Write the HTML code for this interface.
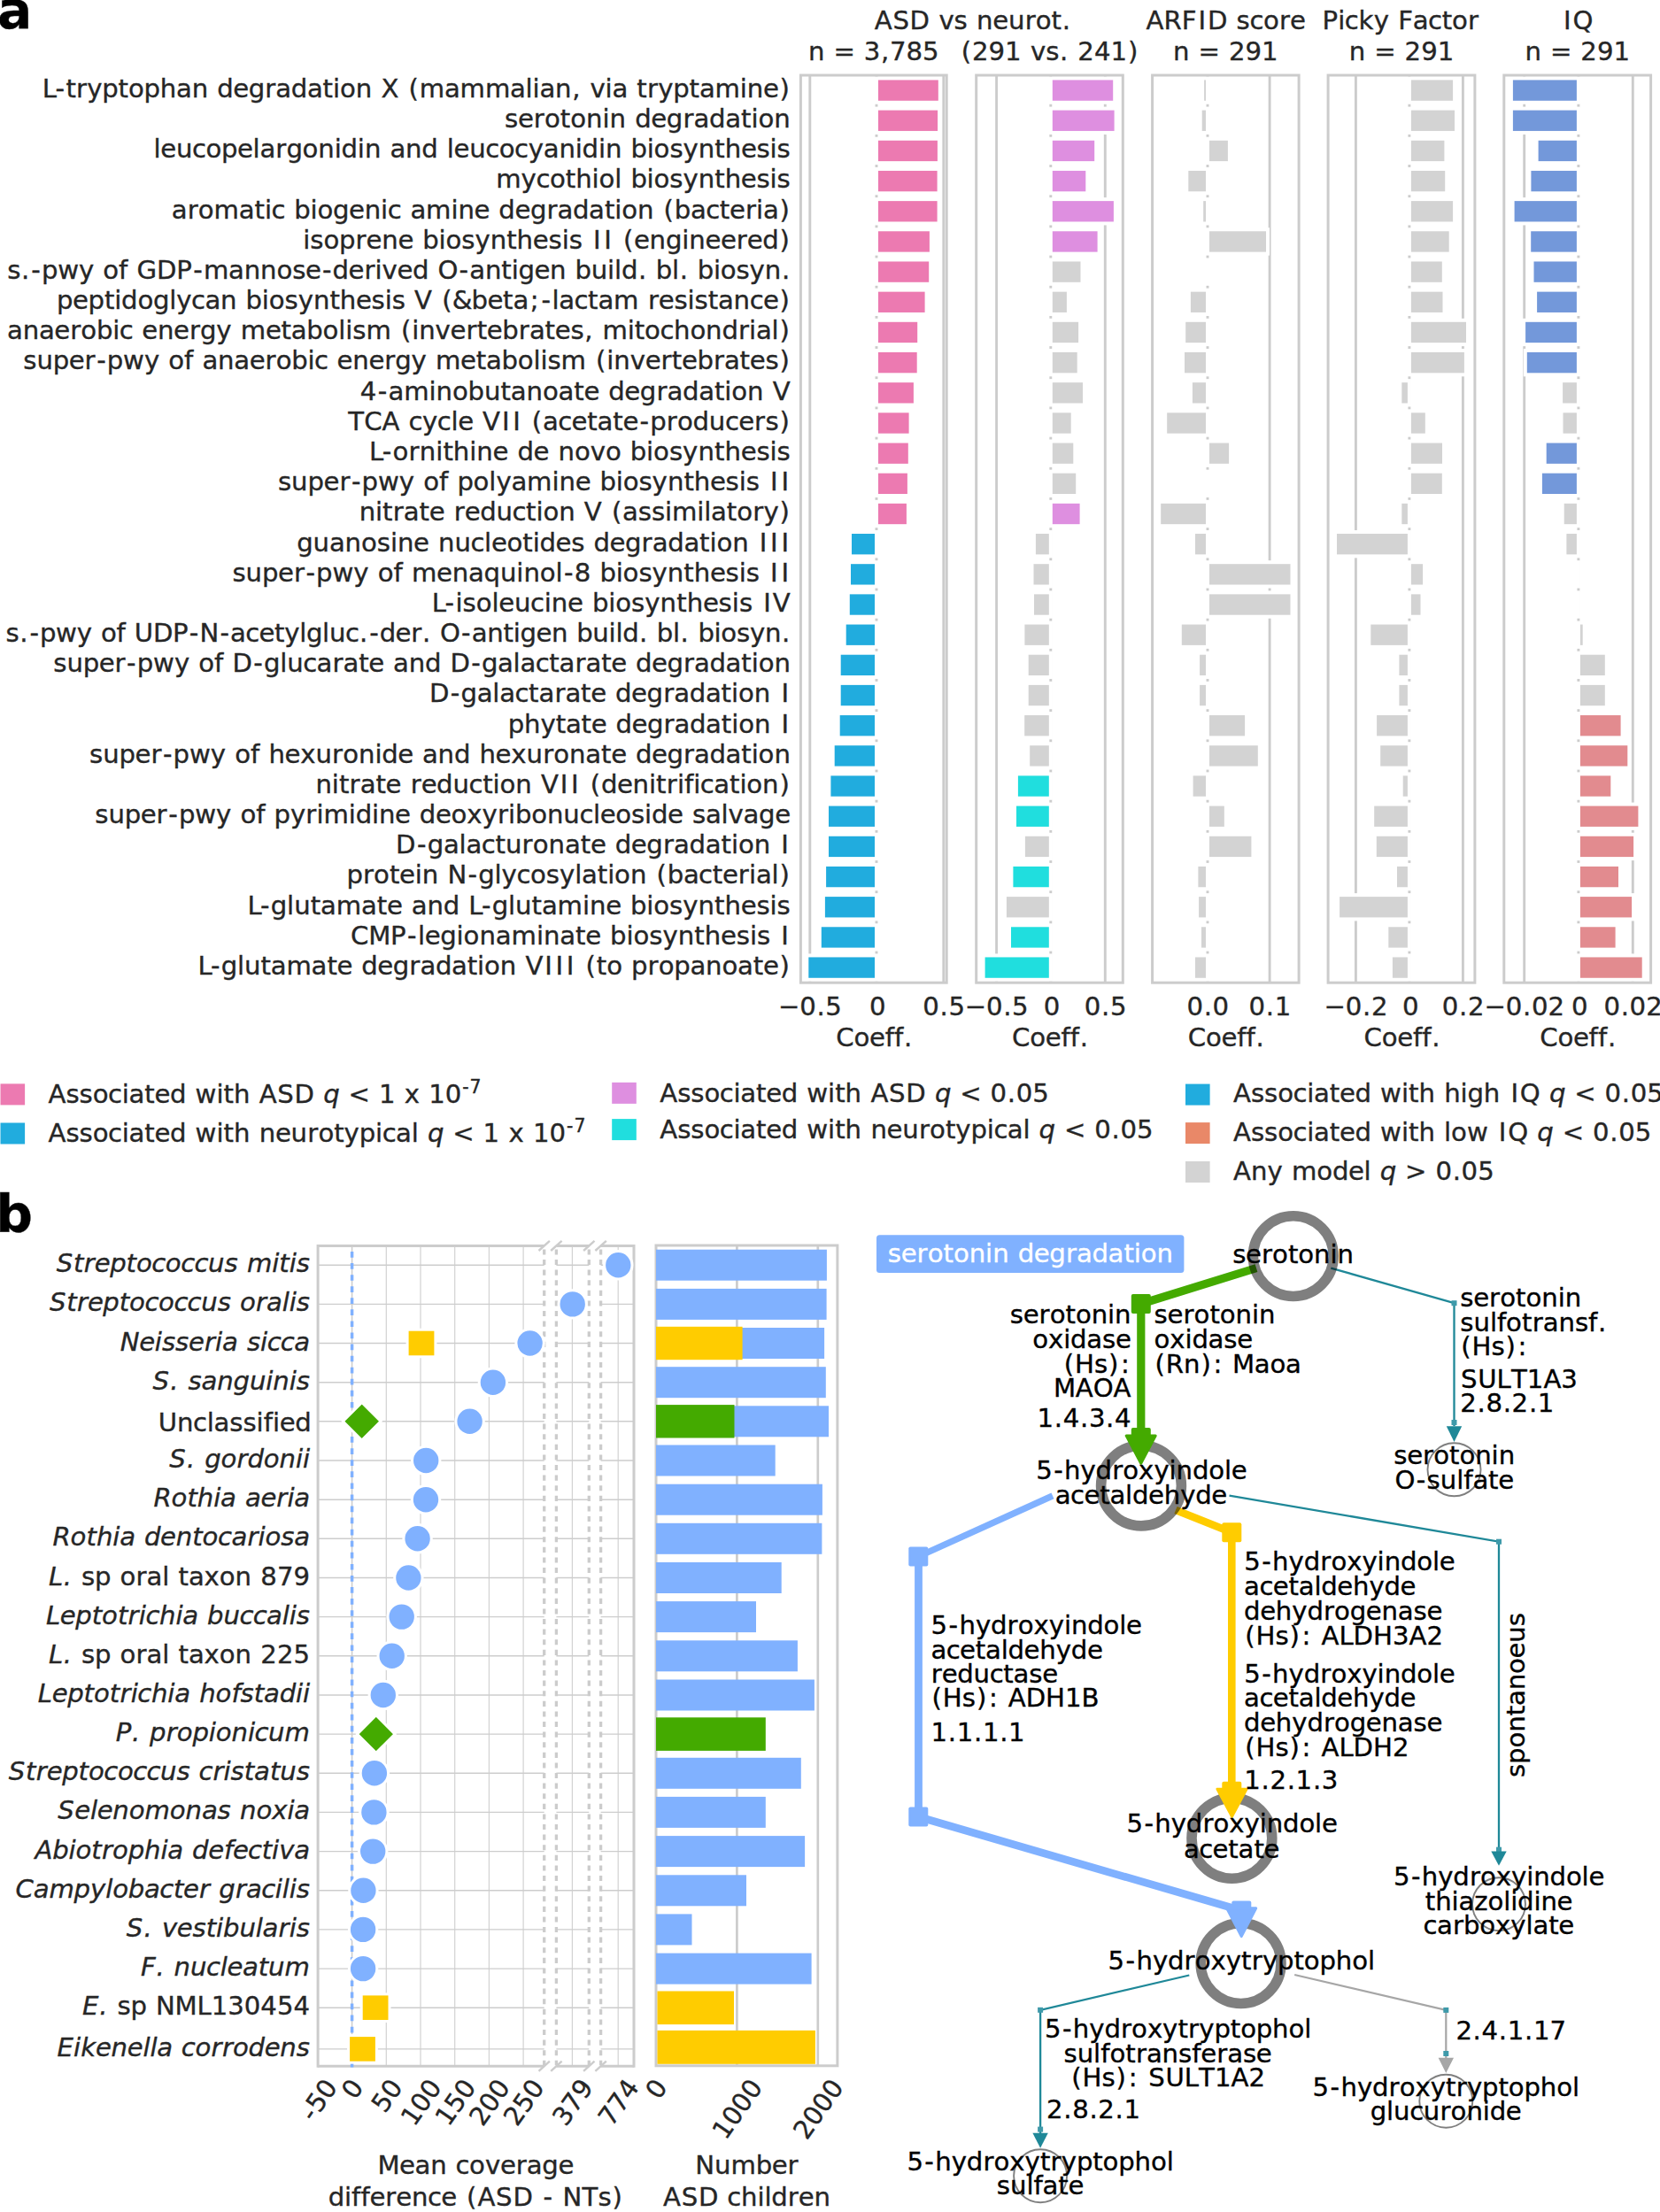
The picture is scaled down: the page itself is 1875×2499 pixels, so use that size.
<!DOCTYPE html>
<html><head><meta charset="utf-8"><title>figure</title>
<style>
html,body{margin:0;padding:0;background:#fff;overflow:hidden;}
svg{display:block;font-family:"DejaVu Sans","Liberation Sans",sans-serif;font-size:29.17px;fill:#262626;font-variant-ligatures:none;white-space:pre;font-kerning:none;}
text{stroke:#262626;stroke-width:0.35px;}
</style></head><body>
<svg width="1875" height="2499" viewBox="0 0 1875 2499">
<rect width="1875" height="2499" fill="#fff"/>
<g>
<line x1="914.8" y1="85.0" x2="914.8" y2="1110.2" stroke="#cccccc" stroke-width="2.9"/>
<line x1="1065.8" y1="85.0" x2="1065.8" y2="1110.2" stroke="#cccccc" stroke-width="2.9"/>
<line x1="990.0" y1="85.0" x2="990.0" y2="1110.2" stroke="#cccccc" stroke-width="2.9"/>
<rect x="990.0" y="88.42" width="71.8" height="27.34" fill="#ec7ab1" stroke="#fff" stroke-width="4.0"/>
<rect x="990.0" y="122.59" width="71.1" height="27.34" fill="#ec7ab1" stroke="#fff" stroke-width="4.0"/>
<rect x="990.0" y="156.76" width="70.9" height="27.34" fill="#ec7ab1" stroke="#fff" stroke-width="4.0"/>
<rect x="990.0" y="190.94" width="70.6" height="27.34" fill="#ec7ab1" stroke="#fff" stroke-width="4.0"/>
<rect x="990.0" y="225.11" width="70.6" height="27.34" fill="#ec7ab1" stroke="#fff" stroke-width="4.0"/>
<rect x="990.0" y="259.28" width="61.9" height="27.34" fill="#ec7ab1" stroke="#fff" stroke-width="4.0"/>
<rect x="990.0" y="293.46" width="61.2" height="27.34" fill="#ec7ab1" stroke="#fff" stroke-width="4.0"/>
<rect x="990.0" y="327.63" width="56.6" height="27.34" fill="#ec7ab1" stroke="#fff" stroke-width="4.0"/>
<rect x="990.0" y="361.80" width="48.2" height="27.34" fill="#ec7ab1" stroke="#fff" stroke-width="4.0"/>
<rect x="990.0" y="395.98" width="47.7" height="27.34" fill="#ec7ab1" stroke="#fff" stroke-width="4.0"/>
<rect x="990.0" y="430.15" width="43.9" height="27.34" fill="#ec7ab1" stroke="#fff" stroke-width="4.0"/>
<rect x="990.0" y="464.32" width="38.6" height="27.34" fill="#ec7ab1" stroke="#fff" stroke-width="4.0"/>
<rect x="990.0" y="498.50" width="37.8" height="27.34" fill="#ec7ab1" stroke="#fff" stroke-width="4.0"/>
<rect x="990.0" y="532.67" width="36.9" height="27.34" fill="#ec7ab1" stroke="#fff" stroke-width="4.0"/>
<rect x="990.0" y="566.84" width="35.9" height="27.34" fill="#ec7ab1" stroke="#fff" stroke-width="4.0"/>
<rect x="960.0" y="601.02" width="30.0" height="27.34" fill="#21acde" stroke="#fff" stroke-width="4.0"/>
<rect x="959.0" y="635.19" width="31.0" height="27.34" fill="#21acde" stroke="#fff" stroke-width="4.0"/>
<rect x="957.8" y="669.36" width="32.2" height="27.34" fill="#21acde" stroke="#fff" stroke-width="4.0"/>
<rect x="953.7" y="703.54" width="36.3" height="27.34" fill="#21acde" stroke="#fff" stroke-width="4.0"/>
<rect x="947.7" y="737.71" width="42.3" height="27.34" fill="#21acde" stroke="#fff" stroke-width="4.0"/>
<rect x="947.7" y="771.88" width="42.3" height="27.34" fill="#21acde" stroke="#fff" stroke-width="4.0"/>
<rect x="946.7" y="806.06" width="43.3" height="27.34" fill="#21acde" stroke="#fff" stroke-width="4.0"/>
<rect x="940.7" y="840.23" width="49.3" height="27.34" fill="#21acde" stroke="#fff" stroke-width="4.0"/>
<rect x="936.4" y="874.40" width="53.6" height="27.34" fill="#21acde" stroke="#fff" stroke-width="4.0"/>
<rect x="934.0" y="908.58" width="56.0" height="27.34" fill="#21acde" stroke="#fff" stroke-width="4.0"/>
<rect x="934.0" y="942.75" width="56.0" height="27.34" fill="#21acde" stroke="#fff" stroke-width="4.0"/>
<rect x="931.1" y="976.92" width="58.9" height="27.34" fill="#21acde" stroke="#fff" stroke-width="4.0"/>
<rect x="929.9" y="1011.10" width="60.1" height="27.34" fill="#21acde" stroke="#fff" stroke-width="4.0"/>
<rect x="925.8" y="1045.27" width="64.2" height="27.34" fill="#21acde" stroke="#fff" stroke-width="4.0"/>
<rect x="911.3" y="1079.44" width="78.7" height="27.34" fill="#21acde" stroke="#fff" stroke-width="4.0"/>
<rect x="904.4" y="85.0" width="164.8" height="1025.2" fill="none" stroke="#cccccc" stroke-width="3"/>
<text x="879.0 903.2 922.4 932.3" y="1146.5" >−0.5</text>
<text x="982.0" y="1146.5" >0</text>
<text x="1042.2 1061.5 1071.4" y="1146.5" >0.5</text>
<text x="944.3 964.6 982.1 999.7 1010.0 1021.0" y="1181.7" >Coeff.</text>
</g>
<g>
<line x1="1125.6" y1="85.0" x2="1125.6" y2="1110.2" stroke="#cccccc" stroke-width="2.9"/>
<line x1="1248.3" y1="85.0" x2="1248.3" y2="1110.2" stroke="#cccccc" stroke-width="2.9"/>
<line x1="1186.8" y1="85.0" x2="1186.8" y2="1110.2" stroke="#cccccc" stroke-width="2.9"/>
<rect x="1186.8" y="88.42" width="72.4" height="27.34" fill="#de8fe0" stroke="#fff" stroke-width="4.0"/>
<rect x="1186.8" y="122.59" width="73.8" height="27.34" fill="#de8fe0" stroke="#fff" stroke-width="4.0"/>
<rect x="1186.8" y="156.76" width="51.4" height="27.34" fill="#de8fe0" stroke="#fff" stroke-width="4.0"/>
<rect x="1186.8" y="190.94" width="41.5" height="27.34" fill="#de8fe0" stroke="#fff" stroke-width="4.0"/>
<rect x="1186.8" y="225.11" width="73.1" height="27.34" fill="#de8fe0" stroke="#fff" stroke-width="4.0"/>
<rect x="1186.8" y="259.28" width="54.8" height="27.34" fill="#de8fe0" stroke="#fff" stroke-width="4.0"/>
<rect x="1186.8" y="293.46" width="35.7" height="27.34" fill="#d3d3d3" stroke="#fff" stroke-width="4.0"/>
<rect x="1186.8" y="327.63" width="20.1" height="27.34" fill="#d3d3d3" stroke="#fff" stroke-width="4.0"/>
<rect x="1186.8" y="361.80" width="33.3" height="27.34" fill="#d3d3d3" stroke="#fff" stroke-width="4.0"/>
<rect x="1186.8" y="395.98" width="31.9" height="27.34" fill="#d3d3d3" stroke="#fff" stroke-width="4.0"/>
<rect x="1186.8" y="430.15" width="38.2" height="27.34" fill="#d3d3d3" stroke="#fff" stroke-width="4.0"/>
<rect x="1186.8" y="464.32" width="24.9" height="27.34" fill="#d3d3d3" stroke="#fff" stroke-width="4.0"/>
<rect x="1186.8" y="498.50" width="27.5" height="27.34" fill="#d3d3d3" stroke="#fff" stroke-width="4.0"/>
<rect x="1186.8" y="532.67" width="30.4" height="27.34" fill="#d3d3d3" stroke="#fff" stroke-width="4.0"/>
<rect x="1186.8" y="566.84" width="34.8" height="27.34" fill="#de8fe0" stroke="#fff" stroke-width="4.0"/>
<rect x="1167.9" y="601.02" width="18.9" height="27.34" fill="#d3d3d3" stroke="#fff" stroke-width="4.0"/>
<rect x="1165.5" y="635.19" width="21.3" height="27.34" fill="#d3d3d3" stroke="#fff" stroke-width="4.0"/>
<rect x="1166.0" y="669.36" width="20.8" height="27.34" fill="#d3d3d3" stroke="#fff" stroke-width="4.0"/>
<rect x="1155.4" y="703.54" width="31.4" height="27.34" fill="#d3d3d3" stroke="#fff" stroke-width="4.0"/>
<rect x="1159.7" y="737.71" width="27.1" height="27.34" fill="#d3d3d3" stroke="#fff" stroke-width="4.0"/>
<rect x="1159.7" y="771.88" width="27.1" height="27.34" fill="#d3d3d3" stroke="#fff" stroke-width="4.0"/>
<rect x="1155.2" y="806.06" width="31.6" height="27.34" fill="#d3d3d3" stroke="#fff" stroke-width="4.0"/>
<rect x="1161.2" y="840.23" width="25.6" height="27.34" fill="#d3d3d3" stroke="#fff" stroke-width="4.0"/>
<rect x="1147.9" y="874.40" width="38.9" height="27.34" fill="#20dede" stroke="#fff" stroke-width="4.0"/>
<rect x="1146.0" y="908.58" width="40.8" height="27.34" fill="#20dede" stroke="#fff" stroke-width="4.0"/>
<rect x="1155.9" y="942.75" width="30.9" height="27.34" fill="#d3d3d3" stroke="#fff" stroke-width="4.0"/>
<rect x="1142.4" y="976.92" width="44.4" height="27.34" fill="#20dede" stroke="#fff" stroke-width="4.0"/>
<rect x="1134.9" y="1011.10" width="51.9" height="27.34" fill="#d3d3d3" stroke="#fff" stroke-width="4.0"/>
<rect x="1140.0" y="1045.27" width="46.8" height="27.34" fill="#20dede" stroke="#fff" stroke-width="4.0"/>
<rect x="1110.6" y="1079.44" width="76.2" height="27.34" fill="#20dede" stroke="#fff" stroke-width="4.0"/>
<rect x="1102.7" y="85.0" width="165.6" height="1025.2" fill="none" stroke="#cccccc" stroke-width="3"/>
<text x="1089.8 1114.0 1133.2 1143.1" y="1146.5" >−0.5</text>
<text x="1178.8" y="1146.5" >0</text>
<text x="1224.7 1244.0 1253.9" y="1146.5" >0.5</text>
<text x="1143.0 1163.3 1180.8 1198.4 1208.7 1219.7" y="1181.7" >Coeff.</text>
</g>
<g>
<line x1="1434.1" y1="85.0" x2="1434.1" y2="1110.2" stroke="#cccccc" stroke-width="2.9"/>
<line x1="1364.0" y1="85.0" x2="1364.0" y2="1110.2" stroke="#cccccc" stroke-width="2.9"/>
<rect x="1358.1" y="88.42" width="5.9" height="27.34" fill="#d3d3d3" stroke="#fff" stroke-width="4.0"/>
<rect x="1355.7" y="122.59" width="8.3" height="27.34" fill="#d3d3d3" stroke="#fff" stroke-width="4.0"/>
<rect x="1364.0" y="156.76" width="24.9" height="27.34" fill="#d3d3d3" stroke="#fff" stroke-width="4.0"/>
<rect x="1340.3" y="190.94" width="23.7" height="27.34" fill="#d3d3d3" stroke="#fff" stroke-width="4.0"/>
<rect x="1357.2" y="225.11" width="6.8" height="27.34" fill="#d3d3d3" stroke="#fff" stroke-width="4.0"/>
<rect x="1364.0" y="259.28" width="68.0" height="27.34" fill="#d3d3d3" stroke="#fff" stroke-width="4.0"/>
<rect x="1362.0" y="291.46" width="4" height="31.34" fill="#fff"/>
<rect x="1342.9" y="327.63" width="21.1" height="27.34" fill="#d3d3d3" stroke="#fff" stroke-width="4.0"/>
<rect x="1337.2" y="361.80" width="26.8" height="27.34" fill="#d3d3d3" stroke="#fff" stroke-width="4.0"/>
<rect x="1336.0" y="395.98" width="28.0" height="27.34" fill="#d3d3d3" stroke="#fff" stroke-width="4.0"/>
<rect x="1344.9" y="430.15" width="19.1" height="27.34" fill="#d3d3d3" stroke="#fff" stroke-width="4.0"/>
<rect x="1316.2" y="464.32" width="47.8" height="27.34" fill="#d3d3d3" stroke="#fff" stroke-width="4.0"/>
<rect x="1364.0" y="498.50" width="26.1" height="27.34" fill="#d3d3d3" stroke="#fff" stroke-width="4.0"/>
<rect x="1362.0" y="530.67" width="4" height="31.34" fill="#fff"/>
<rect x="1309.2" y="566.84" width="54.8" height="27.34" fill="#d3d3d3" stroke="#fff" stroke-width="4.0"/>
<rect x="1348.0" y="601.02" width="16.0" height="27.34" fill="#d3d3d3" stroke="#fff" stroke-width="4.0"/>
<rect x="1364.0" y="635.19" width="95.5" height="27.34" fill="#d3d3d3" stroke="#fff" stroke-width="4.0"/>
<rect x="1364.0" y="669.36" width="95.5" height="27.34" fill="#d3d3d3" stroke="#fff" stroke-width="4.0"/>
<rect x="1332.8" y="703.54" width="31.2" height="27.34" fill="#d3d3d3" stroke="#fff" stroke-width="4.0"/>
<rect x="1353.1" y="737.71" width="10.9" height="27.34" fill="#d3d3d3" stroke="#fff" stroke-width="4.0"/>
<rect x="1353.1" y="771.88" width="10.9" height="27.34" fill="#d3d3d3" stroke="#fff" stroke-width="4.0"/>
<rect x="1364.0" y="806.06" width="44.1" height="27.34" fill="#d3d3d3" stroke="#fff" stroke-width="4.0"/>
<rect x="1364.0" y="840.23" width="58.8" height="27.34" fill="#d3d3d3" stroke="#fff" stroke-width="4.0"/>
<rect x="1345.6" y="874.40" width="18.4" height="27.34" fill="#d3d3d3" stroke="#fff" stroke-width="4.0"/>
<rect x="1364.0" y="908.58" width="20.8" height="27.34" fill="#d3d3d3" stroke="#fff" stroke-width="4.0"/>
<rect x="1364.0" y="942.75" width="51.4" height="27.34" fill="#d3d3d3" stroke="#fff" stroke-width="4.0"/>
<rect x="1351.4" y="976.92" width="12.6" height="27.34" fill="#d3d3d3" stroke="#fff" stroke-width="4.0"/>
<rect x="1352.1" y="1011.10" width="11.9" height="27.34" fill="#d3d3d3" stroke="#fff" stroke-width="4.0"/>
<rect x="1355.0" y="1045.27" width="9.0" height="27.34" fill="#d3d3d3" stroke="#fff" stroke-width="4.0"/>
<rect x="1348.0" y="1079.44" width="16.0" height="27.34" fill="#d3d3d3" stroke="#fff" stroke-width="4.0"/>
<rect x="1301.6" y="85.0" width="165.5" height="1025.2" fill="none" stroke="#cccccc" stroke-width="3"/>
<text x="1340.4 1359.7 1369.6" y="1146.5" >0.0</text>
<text x="1410.5 1429.8 1439.7" y="1146.5" >0.1</text>
<text x="1341.8 1362.1 1379.6 1397.3 1407.6 1418.5" y="1181.7" >Coeff.</text>
</g>
<g>
<line x1="1531.4" y1="85.0" x2="1531.4" y2="1110.2" stroke="#cccccc" stroke-width="2.9"/>
<line x1="1652.4" y1="85.0" x2="1652.4" y2="1110.2" stroke="#cccccc" stroke-width="2.9"/>
<line x1="1591.9" y1="85.0" x2="1591.9" y2="1110.2" stroke="#cccccc" stroke-width="2.9"/>
<rect x="1591.9" y="88.42" width="51.2" height="27.34" fill="#d3d3d3" stroke="#fff" stroke-width="4.0"/>
<rect x="1591.9" y="122.59" width="53.1" height="27.34" fill="#d3d3d3" stroke="#fff" stroke-width="4.0"/>
<rect x="1591.9" y="156.76" width="41.5" height="27.34" fill="#d3d3d3" stroke="#fff" stroke-width="4.0"/>
<rect x="1591.9" y="190.94" width="42.3" height="27.34" fill="#d3d3d3" stroke="#fff" stroke-width="4.0"/>
<rect x="1591.9" y="225.11" width="51.2" height="27.34" fill="#d3d3d3" stroke="#fff" stroke-width="4.0"/>
<rect x="1591.9" y="259.28" width="46.8" height="27.34" fill="#d3d3d3" stroke="#fff" stroke-width="4.0"/>
<rect x="1591.9" y="293.46" width="38.9" height="27.34" fill="#d3d3d3" stroke="#fff" stroke-width="4.0"/>
<rect x="1591.9" y="327.63" width="39.6" height="27.34" fill="#d3d3d3" stroke="#fff" stroke-width="4.0"/>
<rect x="1591.9" y="361.80" width="66.1" height="27.34" fill="#d3d3d3" stroke="#fff" stroke-width="4.0"/>
<rect x="1591.9" y="395.98" width="64.0" height="27.34" fill="#d3d3d3" stroke="#fff" stroke-width="4.0"/>
<rect x="1581.3" y="430.15" width="10.6" height="27.34" fill="#d3d3d3" stroke="#fff" stroke-width="4.0"/>
<rect x="1591.9" y="464.32" width="19.9" height="27.34" fill="#d3d3d3" stroke="#fff" stroke-width="4.0"/>
<rect x="1591.9" y="498.50" width="39.1" height="27.34" fill="#d3d3d3" stroke="#fff" stroke-width="4.0"/>
<rect x="1591.9" y="532.67" width="38.9" height="27.34" fill="#d3d3d3" stroke="#fff" stroke-width="4.0"/>
<rect x="1581.3" y="566.84" width="10.6" height="27.34" fill="#d3d3d3" stroke="#fff" stroke-width="4.0"/>
<rect x="1508.0" y="601.02" width="83.9" height="27.34" fill="#d3d3d3" stroke="#fff" stroke-width="4.0"/>
<rect x="1591.9" y="635.19" width="17.2" height="27.34" fill="#d3d3d3" stroke="#fff" stroke-width="4.0"/>
<rect x="1591.9" y="669.36" width="14.6" height="27.34" fill="#d3d3d3" stroke="#fff" stroke-width="4.0"/>
<rect x="1546.3" y="703.54" width="45.6" height="27.34" fill="#d3d3d3" stroke="#fff" stroke-width="4.0"/>
<rect x="1578.4" y="737.71" width="13.5" height="27.34" fill="#d3d3d3" stroke="#fff" stroke-width="4.0"/>
<rect x="1578.4" y="771.88" width="13.5" height="27.34" fill="#d3d3d3" stroke="#fff" stroke-width="4.0"/>
<rect x="1553.1" y="806.06" width="38.8" height="27.34" fill="#d3d3d3" stroke="#fff" stroke-width="4.0"/>
<rect x="1557.2" y="840.23" width="34.7" height="27.34" fill="#d3d3d3" stroke="#fff" stroke-width="4.0"/>
<rect x="1582.7" y="874.40" width="9.2" height="27.34" fill="#d3d3d3" stroke="#fff" stroke-width="4.0"/>
<rect x="1550.2" y="908.58" width="41.7" height="27.34" fill="#d3d3d3" stroke="#fff" stroke-width="4.0"/>
<rect x="1552.8" y="942.75" width="39.1" height="27.34" fill="#d3d3d3" stroke="#fff" stroke-width="4.0"/>
<rect x="1576.0" y="976.92" width="15.9" height="27.34" fill="#d3d3d3" stroke="#fff" stroke-width="4.0"/>
<rect x="1511.1" y="1011.10" width="80.8" height="27.34" fill="#d3d3d3" stroke="#fff" stroke-width="4.0"/>
<rect x="1566.3" y="1045.27" width="25.6" height="27.34" fill="#d3d3d3" stroke="#fff" stroke-width="4.0"/>
<rect x="1570.9" y="1079.44" width="21.0" height="27.34" fill="#d3d3d3" stroke="#fff" stroke-width="4.0"/>
<rect x="1500.1" y="85.0" width="165.8" height="1025.2" fill="none" stroke="#cccccc" stroke-width="3"/>
<text x="1495.6 1519.8 1539.0 1548.9" y="1146.5" >−0.2</text>
<text x="1583.9" y="1146.5" >0</text>
<text x="1628.8 1648.1 1658.0" y="1146.5" >0.2</text>
<text x="1540.5 1560.8 1578.3 1595.9 1606.2 1617.2" y="1181.7" >Coeff.</text>
</g>
<g>
<line x1="1721.7" y1="85.0" x2="1721.7" y2="1110.2" stroke="#cccccc" stroke-width="2.9"/>
<line x1="1844.3" y1="85.0" x2="1844.3" y2="1110.2" stroke="#cccccc" stroke-width="2.9"/>
<line x1="1782.9" y1="85.0" x2="1782.9" y2="1110.2" stroke="#cccccc" stroke-width="2.9"/>
<rect x="1706.9" y="88.42" width="76.0" height="27.34" fill="#7398da" stroke="#fff" stroke-width="4.0"/>
<rect x="1706.9" y="122.59" width="76.0" height="27.34" fill="#7398da" stroke="#fff" stroke-width="4.0"/>
<rect x="1735.6" y="156.76" width="47.3" height="27.34" fill="#7398da" stroke="#fff" stroke-width="4.0"/>
<rect x="1727.4" y="190.94" width="55.5" height="27.34" fill="#7398da" stroke="#fff" stroke-width="4.0"/>
<rect x="1708.6" y="225.11" width="74.3" height="27.34" fill="#7398da" stroke="#fff" stroke-width="4.0"/>
<rect x="1727.2" y="259.28" width="55.7" height="27.34" fill="#7398da" stroke="#fff" stroke-width="4.0"/>
<rect x="1730.5" y="293.46" width="52.4" height="27.34" fill="#7398da" stroke="#fff" stroke-width="4.0"/>
<rect x="1734.1" y="327.63" width="48.8" height="27.34" fill="#7398da" stroke="#fff" stroke-width="4.0"/>
<rect x="1721.1" y="361.80" width="61.8" height="27.34" fill="#7398da" stroke="#fff" stroke-width="4.0"/>
<rect x="1722.8" y="395.98" width="60.1" height="27.34" fill="#7398da" stroke="#fff" stroke-width="4.0"/>
<rect x="1763.1" y="430.15" width="19.8" height="27.34" fill="#d3d3d3" stroke="#fff" stroke-width="4.0"/>
<rect x="1763.5" y="464.32" width="19.4" height="27.34" fill="#d3d3d3" stroke="#fff" stroke-width="4.0"/>
<rect x="1744.7" y="498.50" width="38.2" height="27.34" fill="#7398da" stroke="#fff" stroke-width="4.0"/>
<rect x="1739.9" y="532.67" width="43.0" height="27.34" fill="#7398da" stroke="#fff" stroke-width="4.0"/>
<rect x="1764.7" y="566.84" width="18.2" height="27.34" fill="#d3d3d3" stroke="#fff" stroke-width="4.0"/>
<rect x="1767.4" y="601.02" width="15.5" height="27.34" fill="#d3d3d3" stroke="#fff" stroke-width="4.0"/>
<rect x="1780.9" y="633.19" width="4" height="31.34" fill="#fff"/>
<rect x="1780.9" y="667.36" width="4" height="31.34" fill="#fff"/>
<rect x="1782.9" y="703.54" width="6.8" height="27.34" fill="#d3d3d3" stroke="#fff" stroke-width="4.0"/>
<rect x="1782.9" y="737.71" width="31.9" height="27.34" fill="#d3d3d3" stroke="#fff" stroke-width="4.0"/>
<rect x="1782.9" y="771.88" width="31.9" height="27.34" fill="#d3d3d3" stroke="#fff" stroke-width="4.0"/>
<rect x="1782.9" y="806.06" width="49.7" height="27.34" fill="#e28b8f" stroke="#fff" stroke-width="4.0"/>
<rect x="1782.9" y="840.23" width="57.4" height="27.34" fill="#e28b8f" stroke="#fff" stroke-width="4.0"/>
<rect x="1782.9" y="874.40" width="38.4" height="27.34" fill="#e28b8f" stroke="#fff" stroke-width="4.0"/>
<rect x="1782.9" y="908.58" width="69.5" height="27.34" fill="#e28b8f" stroke="#fff" stroke-width="4.0"/>
<rect x="1782.9" y="942.75" width="64.2" height="27.34" fill="#e28b8f" stroke="#fff" stroke-width="4.0"/>
<rect x="1782.9" y="976.92" width="47.1" height="27.34" fill="#e28b8f" stroke="#fff" stroke-width="4.0"/>
<rect x="1782.9" y="1011.10" width="62.2" height="27.34" fill="#e28b8f" stroke="#fff" stroke-width="4.0"/>
<rect x="1782.9" y="1045.27" width="43.7" height="27.34" fill="#e28b8f" stroke="#fff" stroke-width="4.0"/>
<rect x="1782.9" y="1079.44" width="73.8" height="27.34" fill="#e28b8f" stroke="#fff" stroke-width="4.0"/>
<rect x="1698.8" y="85.0" width="165.8" height="1025.2" fill="none" stroke="#cccccc" stroke-width="3"/>
<text x="1676.6 1700.8 1720.0 1730.0 1748.5" y="1146.5" >−0.02</text>
<text x="1774.9" y="1146.5" >0</text>
<text x="1811.5 1830.7 1840.6 1859.2" y="1146.5" >0.02</text>
<text x="1739.2 1759.5 1777.0 1794.6 1804.9 1815.9" y="1181.7" >Coeff.</text>
</g>
<text x="47.8 62.5 74.4 86.0 98.2 115.3 133.6 145.0 162.6 180.8 199.1 216.8 235.7 245.3 263.3 280.7 299.3 311.3 328.8 346.9 364.6 376.0 384.0 401.7 420.6 430.4 450.8 461.5 473.7 501.9 519.5 547.9 576.0 593.6 601.6 609.5 627.1 646.2 656.6 666.4 683.6 691.4 709.6 719.3 731.0 743.2 760.3 778.6 789.9 807.5 835.8 843.8 862.0 880.5" y="109.9" >L-tryptophan degradation X (mammalian, via tryptamine)</text>
<text x="569.9 584.9 602.8 615.0 632.8 644.2 662.0 680.5 688.5 707.6 717.2 735.3 752.8 771.4 783.5 801.1 819.3 837.1 848.5 856.5 874.3" y="144.1" >serotonin degradation</text>
<text x="173.5 181.2 198.9 216.9 232.4 250.0 268.0 285.6 293.4 311.3 323.4 341.6 359.3 377.7 385.6 403.8 411.9 430.8 440.4 458.0 476.3 495.1 504.8 512.6 530.2 548.2 563.7 581.1 596.7 613.7 631.4 649.8 657.6 675.9 683.9 702.8 712.4 730.7 738.6 756.4 771.6 788.8 807.3 818.7 836.9 854.5 869.6 877.6" y="178.2" >leucopelargonidin and leucocyanidin biosynthesis</text>
<text x="560.3 588.6 605.4 621.0 638.8 650.2 668.6 676.5 694.2 702.8 712.4 730.6 738.6 756.3 771.5 788.7 807.2 818.7 836.8 854.5 869.6 877.6" y="212.4" >mycothiol biosynthesis</text>
<text x="193.7 211.7 223.8 241.6 269.8 287.5 298.9 306.5 322.6 332.2 350.4 358.4 376.0 394.1 411.7 430.1 437.7 453.8 463.4 481.1 509.4 517.4 535.6 553.8 563.3 581.4 598.9 617.4 629.5 647.0 665.1 682.9 694.2 702.2 720.0 738.9 749.6 761.7 779.9 797.2 812.8 824.0 841.9 854.0 861.9 880.5" y="246.6" >aromatic biogenic amine degradation (bacteria)</text>
<text x="342.2 350.3 365.4 383.0 401.6 413.5 431.2 449.4 467.6 477.2 495.5 503.4 521.2 536.4 553.7 572.2 583.6 601.8 619.5 634.7 642.7 658.4 670.0 682.3 693.2 703.9 716.0 733.6 751.9 770.2 778.3 796.5 813.9 831.8 843.7 861.2 880.5" y="280.8" >isoprene biosynthesis II (engineered)</text>
<text x="8.2 24.0 35.2 46.9 65.2 88.9 106.6 116.3 134.0 144.7 154.4 177.0 199.3 218.2 230.0 258.1 275.7 294.1 312.5 330.2 345.0 364.0 375.6 393.6 411.4 423.5 431.6 448.5 465.9 484.7 494.4 518.6 530.3 547.9 566.3 577.7 585.5 603.5 621.1 640.0 649.5 667.8 686.1 694.1 701.9 720.9 731.2 740.8 759.0 767.7 778.1 787.7 805.9 813.8 831.5 846.6 863.8 882.9" y="314.9" >s.-pwy of GDP-mannose-derived O-antigen build. bl. biosyn.</text>
<text x="64.1 82.1 99.6 117.9 129.3 137.1 155.4 172.9 191.2 199.2 216.0 231.4 249.1 268.0 277.6 295.8 303.8 321.5 336.7 353.9 372.4 383.8 401.9 419.6 434.7 442.7 458.4 468.1 488.5 499.2 510.7 532.5 550.5 568.1 579.4 598.8 611.6 623.4 631.3 648.5 664.1 675.4 693.1 721.9 731.9 743.8 761.4 776.5 784.5 799.7 811.0 828.6 846.7 862.0 880.5" y="349.1" >peptidoglycan biosynthesis V (&amp;beta;-lactam resistance)</text>
<text x="8.0 25.7 43.9 61.3 79.2 91.3 108.9 127.2 134.8 150.9 160.3 178.0 196.1 214.0 226.0 244.3 262.1 271.8 299.9 317.5 328.8 346.3 364.5 382.2 390.2 398.2 413.4 442.2 452.9 465.2 473.2 491.6 508.6 526.4 538.7 549.8 567.3 585.8 597.9 615.6 626.7 644.4 660.2 670.6 680.4 708.7 716.7 728.1 745.4 761.0 779.4 797.1 815.4 833.9 846.1 853.9 871.5 880.5" y="383.3" >anaerobic energy metabolism (invertebrates, mitochondrial)</text>
<text x="26.3 41.5 59.7 77.8 95.6 109.2 120.8 139.1 162.9 180.7 190.3 208.1 218.8 228.4 246.0 264.3 281.7 299.6 311.7 329.2 347.5 355.1 371.2 380.6 398.3 416.4 434.3 446.3 464.6 482.3 492.0 520.1 537.8 549.0 566.5 584.7 602.4 610.4 618.4 633.6 662.4 673.1 685.3 693.3 711.8 728.7 746.6 758.8 769.9 787.4 805.9 817.9 835.6 846.8 864.4 880.5" y="417.4" >super-pwy of anaerobic energy metabolism (invertebrates)</text>
<text x="406.8 426.8 438.5 456.2 484.5 492.6 511.0 528.6 546.9 565.5 576.8 594.5 612.9 630.5 648.2 659.4 677.6 687.2 705.3 722.8 741.4 753.4 771.0 789.2 806.9 818.3 826.3 844.1 863.1 872.8" y="451.6" >4-aminobutanoate degradation V</text>
<text x="393.3 411.2 431.6 452.0 461.4 477.0 493.8 509.4 517.2 535.3 545.1 566.9 579.2 590.1 600.8 612.9 630.2 645.6 663.2 674.5 692.3 703.5 722.5 734.2 752.8 764.9 782.5 800.8 818.9 834.2 852.1 864.4 880.5" y="485.8" >TCA cycle VII (acetate-producers)</text>
<text x="417.0 431.7 443.6 461.6 473.8 492.3 500.4 511.8 530.3 538.3 556.6 574.8 584.4 602.5 620.7 630.4 648.9 666.7 683.9 702.2 711.8 730.1 738.1 755.9 771.1 788.4 807.0 818.4 836.7 854.4 869.5 877.6" y="520.0" >L-ornithine de novo biosynthesis</text>
<text x="314.0 329.1 347.4 365.5 383.4 396.9 408.6 427.0 450.8 468.6 478.3 496.0 506.8 516.4 534.6 552.3 560.4 577.5 595.1 623.5 631.5 649.7 667.8 677.4 695.7 703.7 721.4 736.6 753.9 772.4 783.8 802.0 819.6 834.8 842.8 858.5 870.1 882.4" y="554.1" >super-pwy of polyamine biosynthesis II</text>
<text x="405.7 424.1 432.1 443.8 455.8 473.5 484.7 502.8 512.8 524.7 542.2 560.5 578.5 594.1 605.5 613.4 631.2 650.1 659.8 680.3 690.9 703.0 720.7 735.9 751.0 759.0 787.3 795.3 803.1 820.8 832.2 850.2 862.4 880.5" y="588.3" >nitrate reduction V (assimilatory)</text>
<text x="335.3 353.6 371.9 389.6 408.0 425.8 440.9 449.0 467.1 485.3 495.0 513.5 531.6 547.1 554.9 572.5 590.3 601.7 609.5 627.6 645.3 660.9 670.5 688.6 706.1 724.6 736.7 754.2 772.4 790.1 801.5 809.5 827.2 846.2 857.8 870.1 882.4" y="622.5" >guanosine nucleotides degradation III</text>
<text x="262.4 277.6 295.9 314.0 331.9 345.4 357.1 375.5 399.3 417.1 426.8 444.5 455.3 465.0 493.1 510.8 529.1 546.6 564.9 583.3 591.4 609.8 627.5 636.9 648.8 667.8 677.4 695.7 703.6 721.4 736.6 753.8 772.3 783.8 802.0 819.6 834.8 842.8 858.5 870.1 882.4" y="656.7" >super-pwy of menaquinol-8 biosynthesis II</text>
<text x="487.8 502.5 514.4 522.5 537.7 555.4 563.2 580.9 599.1 614.7 622.7 641.0 659.2 668.9 687.2 695.2 713.0 728.3 745.6 764.2 775.7 793.9 811.6 826.8 834.9 850.7 862.3 872.8" y="690.8" >L-isoleucine biosynthesis IV</text>
<text x="6.5 22.2 33.4 44.9 63.1 86.7 104.3 113.9 131.4 142.1 151.7 172.9 195.1 213.8 225.6 248.5 260.1 277.2 292.4 309.9 321.2 338.2 346.0 364.1 372.0 389.9 406.0 417.2 428.8 446.6 464.3 477.1 487.4 497.1 521.1 532.7 550.2 568.5 579.8 587.6 605.5 622.9 641.7 651.2 669.3 687.5 695.4 703.2 722.0 732.3 741.8 759.9 768.6 778.9 788.4 806.5 814.3 831.9 847.0 864.0 883.0" y="725.0" >s.-pwy of UDP-N-acetylgluc.-der. O-antigen build. bl. biosyn.</text>
<text x="60.3 75.4 93.7 111.7 129.6 143.1 154.8 173.1 196.9 214.6 224.3 242.0 252.7 262.5 286.2 297.9 316.2 324.2 342.2 357.6 375.5 387.5 405.2 416.3 434.4 444.0 461.7 479.9 498.7 508.5 532.2 543.9 562.0 579.6 587.5 604.7 620.3 631.6 649.5 661.5 679.2 690.3 708.5 718.0 736.0 753.5 772.0 784.0 801.5 819.6 837.3 848.7 856.7 874.4" y="759.2" >super-pwy of D-glucarate and D-galactarate degradation</text>
<text x="485.0 508.8 520.5 538.7 556.3 564.2 581.5 597.1 608.4 626.4 638.4 656.1 667.3 685.5 695.1 713.1 730.6 749.2 761.2 778.7 796.9 814.6 826.0 834.0 851.8 870.8 882.4" y="793.4" >D-galactarate degradation I</text>
<text x="573.7 592.0 610.4 627.7 638.9 656.6 667.8 685.9 695.5 713.5 731.0 749.5 761.5 779.0 797.1 814.8 826.2 834.2 851.9 870.8 882.4" y="827.5" >phytate degradation I</text>
<text x="101.1 116.2 134.5 152.5 170.4 183.9 195.6 213.9 237.8 255.5 265.2 282.9 293.7 303.4 321.6 339.2 356.4 375.1 387.2 405.0 423.4 431.2 449.3 467.4 477.0 494.6 512.9 531.7 541.5 559.6 577.3 594.5 613.2 625.3 643.0 661.3 679.0 690.2 708.3 717.9 735.9 753.4 771.9 783.9 801.4 819.6 837.3 848.7 856.6 874.4" y="861.7" >super-pwy of hexuronide and hexuronate degradation</text>
<text x="356.4 374.8 382.9 394.6 406.7 424.4 435.6 453.7 463.7 475.7 493.1 511.5 529.5 545.2 556.6 564.5 582.3 601.3 611.0 632.8 645.1 656.0 666.7 678.9 696.9 714.6 733.0 741.1 752.7 764.9 773.0 783.2 790.8 806.2 824.0 835.4 843.3 861.1 880.5" y="895.9" >nitrate reduction VII (denitrification)</text>
<text x="107.3 122.4 140.7 158.8 176.6 190.2 201.9 220.2 244.0 261.8 271.5 289.2 300.0 309.5 327.9 345.3 357.5 365.5 393.8 401.7 419.9 427.9 446.1 464.2 473.8 491.9 509.4 527.2 544.4 561.9 574.1 581.9 600.2 617.9 636.3 654.4 669.9 677.7 695.2 713.0 728.1 736.0 754.0 772.1 781.9 796.9 814.5 822.5 839.6 857.1 875.2" y="930.0" >super-pwy of pyrimidine deoxyribonucleoside salvage</text>
<text x="447.1 470.9 482.7 500.9 518.5 526.4 543.7 559.4 570.9 589.6 601.8 619.6 637.9 655.7 666.9 685.1 694.7 712.8 730.3 748.9 761.0 778.5 796.7 814.5 825.9 833.9 851.7 870.7 882.3" y="964.2" >D-galacturonate degradation I</text>
<text x="391.4 409.9 422.1 439.9 451.1 468.7 476.7 495.7 505.4 528.6 540.3 558.6 566.6 583.5 599.0 616.8 632.0 649.2 657.0 674.8 686.2 694.1 711.9 730.9 741.6 753.7 771.9 789.1 804.8 816.0 833.8 846.0 853.9 871.5 880.5" y="998.4" >protein N-glycosylation (bacterial)</text>
<text x="279.4 294.1 305.8 324.1 332.2 350.7 362.0 379.7 407.9 425.7 436.9 455.1 464.7 482.4 500.7 519.5 529.3 544.0 555.7 574.0 582.1 600.6 611.9 629.6 657.9 666.0 684.2 702.4 712.0 730.3 738.3 756.1 771.3 788.5 807.0 818.5 836.7 854.4 869.5 877.6" y="1032.6" >L-glutamate and L-glutamine biosynthesis</text>
<text x="396.1 416.2 441.1 460.1 472.0 479.8 497.3 515.6 523.6 541.4 559.8 577.5 605.9 613.9 632.3 650.1 661.3 679.5 689.1 707.4 715.4 733.2 748.5 765.8 784.3 795.8 814.0 831.7 846.9 855.0 870.7 882.3" y="1066.7" >CMP-legionaminate biosynthesis I</text>
<text x="223.4 238.0 249.7 268.0 276.0 294.5 305.8 323.5 351.6 369.4 380.5 398.7 408.2 426.3 443.8 462.3 474.4 491.9 510.0 527.7 539.1 547.1 564.8 583.8 593.5 615.3 627.6 639.8 650.8 661.5 673.8 685.2 703.4 713.0 731.5 743.7 761.3 779.4 797.1 815.5 833.0 850.8 861.9 880.5" y="1100.9" >L-glutamate degradation VIII (to propanoate)</text>
<text x="987.7 1008.4 1027.6 1050.6 1060.4 1077.6 1093.3 1103.1 1121.3 1138.9 1157.7 1169.8 1187.6 1199.7" y="32.5" >ASD vs neurot.</text>
<text x="912.9 931.9 941.4 966.0 975.8 995.0 1005.0 1023.5 1042.1" y="67.9" >n = 3,785</text>
<text x="1085.7 1098.0 1116.6 1135.1 1154.2 1164.0 1181.2 1197.1 1207.5 1217.3 1235.9 1254.4 1273.9" y="67.9" >(291 vs. 241)</text>
<text x="1294.6 1314.6 1334.8 1353.4 1363.9 1386.9 1396.6 1411.4 1427.0 1445.0 1456.9" y="32.5" >ARFID score</text>
<text x="1325.1 1344.1 1353.6 1378.2 1388.0 1406.6 1425.1" y="67.9" >n = 291</text>
<text x="1493.6 1511.2 1518.8 1534.6 1551.7 1569.4 1579.2 1595.8 1613.1 1628.7 1640.1 1658.1" y="32.5" >Picky Factor</text>
<text x="1523.7 1542.7 1552.2 1576.8 1586.6 1605.2 1623.7" y="67.9" >n = 291</text>
<text x="1765.9 1776.4" y="32.5" >IQ</text>
<text x="1722.4 1741.4 1750.9 1775.5 1785.3 1803.9 1822.4" y="67.9" >n = 291</text>
<text x="-3" y="32.4" font-size="58.3" font-weight="bold" fill="#000" stroke="none">a</text>
<text x="-4.8" y="1391.9" font-size="58.3" font-weight="bold" fill="#000" stroke="none">b</text>
<rect x="0.5" y="1224.4" width="27.6" height="24" fill="#ec7ab1"/>
<text x="54.5 74.5 89.6 104.8 122.1 137.7 145.6 163.3 174.5 192.0 210.8 220.6 244.4 252.5 263.9 282.9 292.7 313.3 332.6" y="1246.4" >Associated with ASD</text>
<text x="365.2" y="1246.4" font-style="italic">q</text>
<text x="393.5 418.1 427.9 447.0 456.7 474.5 484.3 502.8" y="1246.4" >&lt; 1 x 10</text>
<text x="522.3 530.6" y="1235.4" font-size="20.4" >-7</text>
<rect x="0.5" y="1268.5" width="27.6" height="24" fill="#21acde"/>
<text x="54.5 74.5 89.6 104.8 122.1 137.7 145.6 163.3 174.5 192.0 210.8 220.6 244.4 252.5 263.9 282.9 292.7 310.9 328.5 347.2 359.4 377.2 388.6 405.7 424.0 431.7 447.1 464.7" y="1289.8" >Associated with neurotypical</text>
<text x="482.9" y="1289.8" font-style="italic">q</text>
<text x="511.2 535.9 545.6 564.7 574.5 592.2 602.0 620.5" y="1289.8" >&lt; 1 x 10</text>
<text x="640.0 648.4" y="1278.8" font-size="20.4" >-7</text>
<rect x="691.2" y="1222.9" width="27.6" height="24" fill="#de8fe0"/>
<text x="745.2 765.2 780.3 795.5 812.8 828.4 836.3 854.0 865.2 882.7 901.5 911.3 935.1 943.2 954.6 973.6 983.4 1004.0 1023.3" y="1244.7" >Associated with ASD</text>
<text x="1055.9" y="1244.7" font-style="italic">q</text>
<text x="1084.2 1108.8 1118.6 1137.8 1147.8 1166.3" y="1244.7" >&lt; 0.05</text>
<rect x="691.2" y="1264.1" width="27.6" height="24" fill="#20dede"/>
<text x="745.2 765.2 780.3 795.5 812.8 828.4 836.3 854.0 865.2 882.7 901.5 911.3 935.1 943.2 954.6 973.6 983.4 1001.6 1019.2 1037.9 1050.1 1067.9 1079.3 1096.4 1114.7 1122.4 1137.8 1155.4" y="1286.0" >Associated with neurotypical</text>
<text x="1173.6" y="1286.0" font-style="italic">q</text>
<text x="1201.9 1226.6 1236.3 1255.6 1265.5 1284.1" y="1286.0" >&lt; 0.05</text>
<rect x="1339" y="1224.6" width="27.6" height="24" fill="#21acde"/>
<text x="1393.0 1413.0 1428.1 1443.3 1460.6 1476.2 1484.1 1501.8 1513.0 1530.5 1549.3 1559.1 1582.9 1591.0 1602.4 1621.4 1631.2 1649.6 1657.5 1675.8 1694.8 1706.4 1716.8" y="1244.7" >Associated with high IQ</text>
<text x="1749.9" y="1244.7" font-style="italic">q</text>
<text x="1778.2 1802.8 1812.6 1831.8 1841.8 1860.3" y="1244.7" >&lt; 0.05</text>
<rect x="1339" y="1268.1" width="27.6" height="24" fill="#e98868"/>
<text x="1393.0 1413.0 1428.1 1443.3 1460.6 1476.2 1484.1 1501.8 1513.0 1530.5 1549.3 1559.1 1582.9 1591.0 1602.4 1621.4 1631.1 1639.1 1656.9 1681.2 1692.8 1703.3" y="1288.8" >Associated with low IQ</text>
<text x="1736.3" y="1288.8" font-style="italic">q</text>
<text x="1764.7 1789.3 1799.1 1818.3 1828.2 1846.8" y="1288.8" >&lt; 0.05</text>
<rect x="1339" y="1312" width="27.6" height="24" fill="#d3d3d3"/>
<text x="1393.0 1412.9 1431.4 1449.2 1458.9 1487.3 1504.9 1522.9 1540.5" y="1332.5" >Any model</text>
<text x="1558.7" y="1332.5" font-style="italic">q</text>
<text x="1587.0 1611.7 1621.4 1640.7 1650.6 1669.2" y="1332.5" >&gt; 0.05</text>
<g>
<line x1="436.3" y1="1407.4" x2="436.3" y2="2334.2" stroke="#d2d2d2" stroke-width="1.2"/>
<line x1="475.0" y1="1407.4" x2="475.0" y2="2334.2" stroke="#d2d2d2" stroke-width="1.2"/>
<line x1="513.7" y1="1407.4" x2="513.7" y2="2334.2" stroke="#d2d2d2" stroke-width="1.2"/>
<line x1="552.4" y1="1407.4" x2="552.4" y2="2334.2" stroke="#d2d2d2" stroke-width="1.2"/>
<line x1="591.1" y1="1407.4" x2="591.1" y2="2334.2" stroke="#d2d2d2" stroke-width="1.2"/>
<line x1="646.4" y1="1407.4" x2="646.4" y2="2334.2" stroke="#d2d2d2" stroke-width="1.2"/>
<line x1="698.2" y1="1407.4" x2="698.2" y2="2334.2" stroke="#d2d2d2" stroke-width="1.2"/>
<line x1="397.6" y1="1407.4" x2="397.6" y2="2334.2" stroke="#cccccc" stroke-width="1.5"/>
<line x1="359.1" y1="1429.2" x2="614.7" y2="1429.2" stroke="#cdcdcd" stroke-width="1.4"/>
<line x1="628.4" y1="1429.2" x2="665.3" y2="1429.2" stroke="#cdcdcd" stroke-width="1.4"/>
<line x1="678.6" y1="1429.2" x2="716.0" y2="1429.2" stroke="#cdcdcd" stroke-width="1.4"/>
<line x1="359.1" y1="1473.4" x2="614.7" y2="1473.4" stroke="#cdcdcd" stroke-width="1.4"/>
<line x1="628.4" y1="1473.4" x2="665.3" y2="1473.4" stroke="#cdcdcd" stroke-width="1.4"/>
<line x1="678.6" y1="1473.4" x2="716.0" y2="1473.4" stroke="#cdcdcd" stroke-width="1.4"/>
<line x1="359.1" y1="1517.5" x2="614.7" y2="1517.5" stroke="#cdcdcd" stroke-width="1.4"/>
<line x1="628.4" y1="1517.5" x2="665.3" y2="1517.5" stroke="#cdcdcd" stroke-width="1.4"/>
<line x1="678.6" y1="1517.5" x2="716.0" y2="1517.5" stroke="#cdcdcd" stroke-width="1.4"/>
<line x1="359.1" y1="1561.7" x2="614.7" y2="1561.7" stroke="#cdcdcd" stroke-width="1.4"/>
<line x1="628.4" y1="1561.7" x2="665.3" y2="1561.7" stroke="#cdcdcd" stroke-width="1.4"/>
<line x1="678.6" y1="1561.7" x2="716.0" y2="1561.7" stroke="#cdcdcd" stroke-width="1.4"/>
<line x1="359.1" y1="1605.8" x2="614.7" y2="1605.8" stroke="#cdcdcd" stroke-width="1.4"/>
<line x1="628.4" y1="1605.8" x2="665.3" y2="1605.8" stroke="#cdcdcd" stroke-width="1.4"/>
<line x1="678.6" y1="1605.8" x2="716.0" y2="1605.8" stroke="#cdcdcd" stroke-width="1.4"/>
<line x1="359.1" y1="1650.0" x2="614.7" y2="1650.0" stroke="#cdcdcd" stroke-width="1.4"/>
<line x1="628.4" y1="1650.0" x2="665.3" y2="1650.0" stroke="#cdcdcd" stroke-width="1.4"/>
<line x1="678.6" y1="1650.0" x2="716.0" y2="1650.0" stroke="#cdcdcd" stroke-width="1.4"/>
<line x1="359.1" y1="1694.2" x2="614.7" y2="1694.2" stroke="#cdcdcd" stroke-width="1.4"/>
<line x1="628.4" y1="1694.2" x2="665.3" y2="1694.2" stroke="#cdcdcd" stroke-width="1.4"/>
<line x1="678.6" y1="1694.2" x2="716.0" y2="1694.2" stroke="#cdcdcd" stroke-width="1.4"/>
<line x1="359.1" y1="1738.3" x2="614.7" y2="1738.3" stroke="#cdcdcd" stroke-width="1.4"/>
<line x1="628.4" y1="1738.3" x2="665.3" y2="1738.3" stroke="#cdcdcd" stroke-width="1.4"/>
<line x1="678.6" y1="1738.3" x2="716.0" y2="1738.3" stroke="#cdcdcd" stroke-width="1.4"/>
<line x1="359.1" y1="1782.5" x2="614.7" y2="1782.5" stroke="#cdcdcd" stroke-width="1.4"/>
<line x1="628.4" y1="1782.5" x2="665.3" y2="1782.5" stroke="#cdcdcd" stroke-width="1.4"/>
<line x1="678.6" y1="1782.5" x2="716.0" y2="1782.5" stroke="#cdcdcd" stroke-width="1.4"/>
<line x1="359.1" y1="1826.6" x2="614.7" y2="1826.6" stroke="#cdcdcd" stroke-width="1.4"/>
<line x1="628.4" y1="1826.6" x2="665.3" y2="1826.6" stroke="#cdcdcd" stroke-width="1.4"/>
<line x1="678.6" y1="1826.6" x2="716.0" y2="1826.6" stroke="#cdcdcd" stroke-width="1.4"/>
<line x1="359.1" y1="1870.8" x2="614.7" y2="1870.8" stroke="#cdcdcd" stroke-width="1.4"/>
<line x1="628.4" y1="1870.8" x2="665.3" y2="1870.8" stroke="#cdcdcd" stroke-width="1.4"/>
<line x1="678.6" y1="1870.8" x2="716.0" y2="1870.8" stroke="#cdcdcd" stroke-width="1.4"/>
<line x1="359.1" y1="1915.0" x2="614.7" y2="1915.0" stroke="#cdcdcd" stroke-width="1.4"/>
<line x1="628.4" y1="1915.0" x2="665.3" y2="1915.0" stroke="#cdcdcd" stroke-width="1.4"/>
<line x1="678.6" y1="1915.0" x2="716.0" y2="1915.0" stroke="#cdcdcd" stroke-width="1.4"/>
<line x1="359.1" y1="1959.1" x2="614.7" y2="1959.1" stroke="#cdcdcd" stroke-width="1.4"/>
<line x1="628.4" y1="1959.1" x2="665.3" y2="1959.1" stroke="#cdcdcd" stroke-width="1.4"/>
<line x1="678.6" y1="1959.1" x2="716.0" y2="1959.1" stroke="#cdcdcd" stroke-width="1.4"/>
<line x1="359.1" y1="2003.3" x2="614.7" y2="2003.3" stroke="#cdcdcd" stroke-width="1.4"/>
<line x1="628.4" y1="2003.3" x2="665.3" y2="2003.3" stroke="#cdcdcd" stroke-width="1.4"/>
<line x1="678.6" y1="2003.3" x2="716.0" y2="2003.3" stroke="#cdcdcd" stroke-width="1.4"/>
<line x1="359.1" y1="2047.4" x2="614.7" y2="2047.4" stroke="#cdcdcd" stroke-width="1.4"/>
<line x1="628.4" y1="2047.4" x2="665.3" y2="2047.4" stroke="#cdcdcd" stroke-width="1.4"/>
<line x1="678.6" y1="2047.4" x2="716.0" y2="2047.4" stroke="#cdcdcd" stroke-width="1.4"/>
<line x1="359.1" y1="2091.6" x2="614.7" y2="2091.6" stroke="#cdcdcd" stroke-width="1.4"/>
<line x1="628.4" y1="2091.6" x2="665.3" y2="2091.6" stroke="#cdcdcd" stroke-width="1.4"/>
<line x1="678.6" y1="2091.6" x2="716.0" y2="2091.6" stroke="#cdcdcd" stroke-width="1.4"/>
<line x1="359.1" y1="2135.8" x2="614.7" y2="2135.8" stroke="#cdcdcd" stroke-width="1.4"/>
<line x1="628.4" y1="2135.8" x2="665.3" y2="2135.8" stroke="#cdcdcd" stroke-width="1.4"/>
<line x1="678.6" y1="2135.8" x2="716.0" y2="2135.8" stroke="#cdcdcd" stroke-width="1.4"/>
<line x1="359.1" y1="2179.9" x2="614.7" y2="2179.9" stroke="#cdcdcd" stroke-width="1.4"/>
<line x1="628.4" y1="2179.9" x2="665.3" y2="2179.9" stroke="#cdcdcd" stroke-width="1.4"/>
<line x1="678.6" y1="2179.9" x2="716.0" y2="2179.9" stroke="#cdcdcd" stroke-width="1.4"/>
<line x1="359.1" y1="2224.1" x2="614.7" y2="2224.1" stroke="#cdcdcd" stroke-width="1.4"/>
<line x1="628.4" y1="2224.1" x2="665.3" y2="2224.1" stroke="#cdcdcd" stroke-width="1.4"/>
<line x1="678.6" y1="2224.1" x2="716.0" y2="2224.1" stroke="#cdcdcd" stroke-width="1.4"/>
<line x1="359.1" y1="2268.2" x2="614.7" y2="2268.2" stroke="#cdcdcd" stroke-width="1.4"/>
<line x1="628.4" y1="2268.2" x2="665.3" y2="2268.2" stroke="#cdcdcd" stroke-width="1.4"/>
<line x1="678.6" y1="2268.2" x2="716.0" y2="2268.2" stroke="#cdcdcd" stroke-width="1.4"/>
<line x1="359.1" y1="2314.9" x2="614.7" y2="2314.9" stroke="#cdcdcd" stroke-width="1.4"/>
<line x1="628.4" y1="2314.9" x2="665.3" y2="2314.9" stroke="#cdcdcd" stroke-width="1.4"/>
<line x1="678.6" y1="2314.9" x2="716.0" y2="2314.9" stroke="#cdcdcd" stroke-width="1.4"/>
<line x1="359.1" y1="1407.4" x2="614.7" y2="1407.4" stroke="#cccccc" stroke-width="3"/>
<line x1="359.1" y1="2334.2" x2="614.7" y2="2334.2" stroke="#cccccc" stroke-width="3"/>
<line x1="628.4" y1="1407.4" x2="665.3" y2="1407.4" stroke="#cccccc" stroke-width="3"/>
<line x1="628.4" y1="2334.2" x2="665.3" y2="2334.2" stroke="#cccccc" stroke-width="3"/>
<line x1="678.6" y1="1407.4" x2="716.0" y2="1407.4" stroke="#cccccc" stroke-width="3"/>
<line x1="678.6" y1="2334.2" x2="716.0" y2="2334.2" stroke="#cccccc" stroke-width="3"/>
<line x1="359.1" y1="1405.9" x2="359.1" y2="2335.7" stroke="#cccccc" stroke-width="3"/>
<line x1="716.0" y1="1405.9" x2="716.0" y2="2335.7" stroke="#cccccc" stroke-width="3"/>
<line x1="614.7" y1="1411.4" x2="614.7" y2="2333.2" stroke="#cccccc" stroke-width="3.3" stroke-dasharray="6.1 5.5"/>
<line x1="608.5" y1="1413.0" x2="620.9" y2="1401.8" stroke="#cccccc" stroke-width="2.4"/>
<line x1="608.5" y1="2339.8" x2="620.9" y2="2328.6" stroke="#cccccc" stroke-width="2.4"/>
<line x1="628.4" y1="1411.4" x2="628.4" y2="2333.2" stroke="#cccccc" stroke-width="3.3" stroke-dasharray="6.1 5.5"/>
<line x1="622.2" y1="1413.0" x2="634.6" y2="1401.8" stroke="#cccccc" stroke-width="2.4"/>
<line x1="622.2" y1="2339.8" x2="634.6" y2="2328.6" stroke="#cccccc" stroke-width="2.4"/>
<line x1="665.3" y1="1411.4" x2="665.3" y2="2333.2" stroke="#cccccc" stroke-width="3.3" stroke-dasharray="6.1 5.5"/>
<line x1="659.1" y1="1413.0" x2="671.5" y2="1401.8" stroke="#cccccc" stroke-width="2.4"/>
<line x1="659.1" y1="2339.8" x2="671.5" y2="2328.6" stroke="#cccccc" stroke-width="2.4"/>
<line x1="678.6" y1="1411.4" x2="678.6" y2="2333.2" stroke="#cccccc" stroke-width="3.3" stroke-dasharray="6.1 5.5"/>
<line x1="672.4" y1="1413.0" x2="684.8" y2="1401.8" stroke="#cccccc" stroke-width="2.4"/>
<line x1="672.4" y1="2339.8" x2="684.8" y2="2328.6" stroke="#cccccc" stroke-width="2.4"/>
<line x1="397.6" y1="1414.0" x2="397.6" y2="2336.2" stroke="#80b1ff" stroke-width="3.5" stroke-dasharray="6.7 6.37"/>
<circle cx="698.3" cy="1429.2" r="15.7" fill="#80b1ff" stroke="#fff" stroke-width="3"/>
<circle cx="646.7" cy="1473.4" r="15.7" fill="#80b1ff" stroke="#fff" stroke-width="3"/>
<circle cx="598.6" cy="1517.5" r="15.7" fill="#80b1ff" stroke="#fff" stroke-width="3"/>
<circle cx="556.9" cy="1561.7" r="15.7" fill="#80b1ff" stroke="#fff" stroke-width="3"/>
<circle cx="530.6" cy="1605.8" r="15.7" fill="#80b1ff" stroke="#fff" stroke-width="3"/>
<circle cx="481.2" cy="1650.0" r="15.7" fill="#80b1ff" stroke="#fff" stroke-width="3"/>
<circle cx="481.0" cy="1694.2" r="15.7" fill="#80b1ff" stroke="#fff" stroke-width="3"/>
<circle cx="471.6" cy="1738.3" r="15.7" fill="#80b1ff" stroke="#fff" stroke-width="3"/>
<circle cx="461.4" cy="1782.5" r="15.7" fill="#80b1ff" stroke="#fff" stroke-width="3"/>
<circle cx="453.7" cy="1826.6" r="15.7" fill="#80b1ff" stroke="#fff" stroke-width="3"/>
<circle cx="442.7" cy="1870.8" r="15.7" fill="#80b1ff" stroke="#fff" stroke-width="3"/>
<circle cx="432.8" cy="1915.0" r="15.7" fill="#80b1ff" stroke="#fff" stroke-width="3"/>
<circle cx="422.9" cy="2003.3" r="15.7" fill="#80b1ff" stroke="#fff" stroke-width="3"/>
<circle cx="422.4" cy="2047.4" r="15.7" fill="#80b1ff" stroke="#fff" stroke-width="3"/>
<circle cx="421.2" cy="2091.6" r="15.7" fill="#80b1ff" stroke="#fff" stroke-width="3"/>
<circle cx="410.4" cy="2135.8" r="15.7" fill="#80b1ff" stroke="#fff" stroke-width="3"/>
<circle cx="410.1" cy="2179.9" r="15.7" fill="#80b1ff" stroke="#fff" stroke-width="3"/>
<circle cx="410.1" cy="2224.1" r="15.7" fill="#80b1ff" stroke="#fff" stroke-width="3"/>
<rect x="460.1" y="1502.2" width="31.8" height="30.6" fill="#ffcc00" stroke="#fff" stroke-width="3"/>
<rect x="408.2" y="2252.9" width="31.8" height="30.6" fill="#ffcc00" stroke="#fff" stroke-width="3"/>
<rect x="393.6" y="2299.6" width="31.8" height="30.6" fill="#ffcc00" stroke="#fff" stroke-width="3"/>
<path d="M387.4,1605.8 L408.7,1584.5 L430.0,1605.8 L408.7,1627.1 Z" fill="#44aa00" stroke="#fff" stroke-width="3"/>
<path d="M403.5,1959.1 L424.8,1937.8 L446.1,1959.1 L424.8,1980.4 Z" fill="#44aa00" stroke="#fff" stroke-width="3"/>
</g>
<g transform="translate(359.0,2372.5) rotate(-55)">
<text x="-23.8 -11.9 6.6" y="10.6" >-50</text>
</g>
<g transform="translate(397.6,2359.5) rotate(-55)">
<text x="-9.3" y="10.6" >0</text>
</g>
<g transform="translate(436.6,2367.1) rotate(-55)">
<text x="-18.6 0.0" y="10.6" >50</text>
</g>
<g transform="translate(475.2,2374.7) rotate(-55)">
<text x="-27.8 -9.3 9.3" y="10.6" >100</text>
</g>
<g transform="translate(513.9,2374.7) rotate(-55)">
<text x="-27.8 -9.3 9.3" y="10.6" >150</text>
</g>
<g transform="translate(552.6,2374.7) rotate(-55)">
<text x="-27.8 -9.3 9.3" y="10.6" >200</text>
</g>
<g transform="translate(591.3,2374.7) rotate(-55)">
<text x="-27.8 -9.3 9.3" y="10.6" >250</text>
</g>
<g transform="translate(646.5,2374.7) rotate(-55)">
<text x="-27.8 -9.3 9.3" y="10.6" >379</text>
</g>
<g transform="translate(698.3,2374.7) rotate(-55)">
<text x="-27.8 -9.3 9.3" y="10.6" >774</text>
</g>
<text x="426.4 451.0 468.5 486.2 505.2 514.5 530.1 547.9 564.9 582.8 594.8 612.3 630.4" y="2456.3" >Mean coverage</text>
<text x="370.8 389.1 397.1 407.4 417.4 435.3 447.2 464.9 482.9 498.3 516.4 527.1 539.4 560.1 579.4 602.3 613.5 625.8 635.6 657.5 675.4 691.5" y="2492.1" >difference (ASD - NTs)</text>
<text x="63.8 83.0 94.7 106.7 124.2 142.5 153.9 171.3 186.8 204.2 219.4 235.0 253.5 269.2 278.9 307.3 315.3 326.8 334.8" y="1437.2" font-style="italic">Streptococcus mitis</text>
<text x="56.0 75.2 86.9 98.9 116.3 134.7 146.1 163.5 179.0 196.4 211.6 227.2 245.7 261.4 271.1 289.1 301.1 318.8 326.8 334.8" y="1481.4" font-style="italic">Streptococcus oralis</text>
<text x="135.7 157.2 174.8 182.9 198.1 213.0 230.9 243.0 250.9 269.1 278.9 294.0 301.7 316.8 332.3" y="1525.5" font-style="italic">Neisseria sicca</text>
<text x="172.4 192.3 202.7 212.5 227.5 245.2 263.5 281.9 300.3 308.3 326.8 334.8" y="1569.7" font-style="italic">S. sanguinis</text>
<text x="178.8 200.1 218.1 233.7 241.6 259.3 274.5 289.6 297.7 307.9 315.7 333.2" y="1617.0" >Unclassified</text>
<text x="191.2 211.1 221.6 231.2 249.4 267.4 279.5 297.8 315.5 334.0 341.9" y="1658.0" font-style="italic">S. gordonii</text>
<text x="173.4 193.6 211.4 222.8 241.3 249.1 267.3 276.9 294.4 312.3 324.4 332.3" y="1702.2" font-style="italic">Rothia aeria</text>
<text x="59.4 79.6 97.4 108.9 127.3 135.2 153.4 163.0 181.1 198.7 217.2 228.6 246.0 261.4 279.4 291.5 299.5 317.3 332.3" y="1746.3" font-style="italic">Rothia dentocariosa</text>
<text x="92.0 107.0 125.9 135.6 153.6 165.6 183.3 191.8 201.6 212.9 230.6 247.8 265.6 284.6 294.3 312.9 331.4" y="1790.5" >sp oral taxon 879</text>
<text x="54.9 71.8" y="1790.5" font-style="italic">L.</text>
<text x="51.9 67.8 85.3 103.7 115.1 132.9 144.6 156.7 164.4 180.0 198.4 206.3 224.5 234.1 252.4 270.5 285.7 301.1 318.8 326.8 334.8" y="1834.6" font-style="italic">Leptotrichia buccalis</text>
<text x="92.0 107.0 125.9 135.6 153.6 165.6 183.3 191.8 201.6 212.9 230.6 247.8 265.6 284.6 294.3 312.9 331.4" y="1878.8" >sp oral taxon 225</text>
<text x="54.9 71.8" y="1878.8" font-style="italic">L.</text>
<text x="42.8 58.8 76.2 94.6 106.0 123.8 135.5 147.7 155.3 170.9 189.3 197.2 215.4 225.2 243.6 261.4 271.6 286.8 298.1 315.7 334.0 341.9" y="1923.0" font-style="italic">Leptotrichia hofstadii</text>
<text x="130.8 149.1 159.5 169.1 187.7 199.8 217.5 235.7 243.7 261.5 279.9 287.5 303.1 321.6" y="1967.1" font-style="italic">P. propionicum</text>
<text x="9.8 29.1 40.8 52.7 70.2 88.6 100.0 117.3 132.9 150.2 165.4 181.0 199.5 215.2 224.6 240.4 252.6 260.6 275.8 287.1 304.9 316.3 334.8" y="2011.3" font-style="italic">Streptococcus cristatus</text>
<text x="65.3 84.3 101.9 109.7 127.3 145.7 163.5 191.8 209.6 227.9 245.6 261.3 271.0 289.4 307.2 324.4 332.3" y="2055.4" font-style="italic">Selenomonas noxia</text>
<text x="39.4 59.2 77.5 85.4 103.3 114.9 127.1 144.7 163.0 181.5 189.3 207.5 217.1 235.2 252.9 262.9 280.1 295.7 307.1 315.2 332.3" y="2099.6" font-style="italic">Abiotrophia defectiva</text>
<text x="17.5 37.7 55.4 83.6 102.0 119.2 127.2 144.8 163.0 180.2 195.9 207.1 225.0 237.7 247.3 265.9 277.9 295.2 310.8 318.8 326.8 334.8" y="2143.8" font-style="italic">Campylobacter gracilis</text>
<text x="142.7 162.6 173.1 182.9 199.8 217.5 232.7 244.1 252.0 270.4 288.8 296.6 314.6 326.8 334.8" y="2187.9" font-style="italic">S. vestibularis</text>
<text x="159.0 176.4 186.9 196.6 215.1 233.1 248.7 256.5 274.0 291.7 303.1 321.6" y="2232.1" font-style="italic">F. nucleatum</text>
<text x="132.4 147.4 166.3 176.0 197.6 222.4 238.7 257.2 275.8 294.3 312.9 331.4" y="2276.2" >sp NML130454</text>
<text x="93.1 112.2" y="2276.2" font-style="italic">E.</text>
<text x="64.5 82.9 91.2 108.0 125.6 143.8 161.4 169.4 177.3 195.5 204.8 220.4 238.4 250.9 263.0 280.6 298.7 316.3 334.8" y="2322.9" font-style="italic">Eikenella corrodens</text>
<g>
<line x1="832.4" y1="1407.0" x2="832.4" y2="2333.8" stroke="#cccccc" stroke-width="2.7"/>
<line x1="923.8" y1="1407.0" x2="923.8" y2="2333.8" stroke="#cccccc" stroke-width="2.7"/>
<rect x="741.0" y="1407.0" width="204.9" height="926.8" fill="none" stroke="#cccccc" stroke-width="3"/>
<rect x="741.0" y="1411.7" width="192.9" height="35" fill="#80b1ff"/>
<rect x="741.0" y="1455.9" width="192.6" height="35" fill="#80b1ff"/>
<rect x="741.0" y="1500.0" width="190.1" height="35" fill="#80b1ff"/>
<rect x="741.0" y="1544.2" width="191.8" height="35" fill="#80b1ff"/>
<rect x="741.0" y="1588.3" width="195.0" height="35" fill="#80b1ff"/>
<rect x="741.0" y="1632.5" width="134.7" height="35" fill="#80b1ff"/>
<rect x="741.0" y="1676.7" width="187.9" height="35" fill="#80b1ff"/>
<rect x="741.0" y="1720.8" width="187.4" height="35" fill="#80b1ff"/>
<rect x="741.0" y="1765.0" width="141.7" height="35" fill="#80b1ff"/>
<rect x="741.0" y="1809.1" width="113.0" height="35" fill="#80b1ff"/>
<rect x="741.0" y="1853.3" width="159.9" height="35" fill="#80b1ff"/>
<rect x="741.0" y="1897.5" width="178.9" height="35" fill="#80b1ff"/>
<rect x="741.0" y="1985.8" width="163.8" height="35" fill="#80b1ff"/>
<rect x="741.0" y="2029.9" width="123.8" height="35" fill="#80b1ff"/>
<rect x="741.0" y="2074.1" width="168.1" height="35" fill="#80b1ff"/>
<rect x="741.0" y="2118.3" width="102.0" height="35" fill="#80b1ff"/>
<rect x="741.0" y="2162.4" width="40.5" height="35" fill="#80b1ff"/>
<rect x="741.0" y="2206.6" width="175.6" height="35" fill="#80b1ff"/>
<rect x="741.0" y="1498.8" width="97.6" height="37.4" fill="#ffcc00"/>
<rect x="741.0" y="1587.1" width="88.5" height="37.4" fill="#44aa00"/>
<rect x="741.0" y="1940.3" width="123.8" height="37.6" fill="#44aa00"/>
<rect x="742.5" y="2249.5" width="86.5" height="37.6" fill="#ffcc00"/>
<rect x="742.5" y="2293.9" width="178.4" height="37.9" fill="#ffcc00"/>
</g>
<g transform="translate(741.0,2359.5) rotate(-55)">
<text x="-9.3" y="10.6" >0</text>
</g>
<g transform="translate(832.4,2382.3) rotate(-55)">
<text x="-37.1 -18.6 0.0 18.6" y="10.6" >1000</text>
</g>
<g transform="translate(923.8,2382.3) rotate(-55)">
<text x="-37.1 -18.6 0.0 18.6" y="10.6" >2000</text>
</g>
<text x="785.2 807.0 825.4 853.7 871.7 889.6" y="2456.3" >Number</text>
<text x="749.1 769.8 789.0 812.0 821.3 837.0 855.4 863.4 871.2 889.8 901.8 919.4" y="2492.1" >ASD children</text>
<g>
<rect x="990" y="1395.2" width="347.4" height="42.9" rx="3.5" fill="#80b1ff"/>
<text x="1002.8 1017.7 1035.6 1047.8 1065.6 1077.0 1094.7 1113.1 1121.2 1140.2 1149.8 1167.8 1185.3 1203.9 1215.9 1233.5 1251.6 1269.4 1280.8 1288.8 1306.5" y="1425.9" fill="#fff" style="stroke:#fff" >serotonin degradation</text>
<path d="M1419.0,1432.6 L1288.8,1473.0 L1288.8,1622.0" fill="none" stroke="#44aa00" stroke-width="9.2" stroke-linejoin="round"/>
<path d="M1189.0,1689.9 L1037.3,1758.5" fill="none" stroke="#80b1ff" stroke-width="7.4" />
<path d="M1037.5,1758.5 L1037.5,2052.5" fill="none" stroke="#80b1ff" stroke-width="8.8" />
<path d="M1037.3,2052.5 L1402.3,2158.5" fill="none" stroke="#80b1ff" stroke-width="8.6" />
<path d="M1328.0,1706.0 L1391.3,1731.3 L1391.3,2023.0" fill="none" stroke="#ffcc00" stroke-width="8.6" stroke-linejoin="round"/>
<path d="M1503.3,1432.6 L1642.5,1472.2 L1642.5,1611.0" fill="none" stroke="#1f8898" stroke-width="2.3" />
<path d="M1388.5,1689.6 L1693.0,1741.7 L1693.0,2092.0" fill="none" stroke="#1f8898" stroke-width="2.3" />
<path d="M1343.3,2231.5 L1175.1,2270.8 L1175.1,2410.0" fill="none" stroke="#1f8898" stroke-width="2.3" />
<path d="M1462.2,2231.0 L1633.3,2270.9 L1633.3,2325.0" fill="none" stroke="#a6a6a6" stroke-width="2.2" />
<circle cx="1460.8" cy="1419.1" r="45.4" fill="none" stroke="#000" stroke-opacity="0.5" stroke-width="11.6"/>
<circle cx="1289" cy="1678.5" r="45.4" fill="none" stroke="#000" stroke-opacity="0.5" stroke-width="11.6"/>
<circle cx="1391.4" cy="2076.8" r="45.4" fill="none" stroke="#000" stroke-opacity="0.5" stroke-width="11.6"/>
<circle cx="1401.6" cy="2218.1" r="45.4" fill="none" stroke="#000" stroke-opacity="0.5" stroke-width="11.6"/>
<circle cx="1642.5" cy="1660.3" r="30" fill="none" stroke="#000" stroke-opacity="0.5" stroke-width="1.9"/>
<circle cx="1693" cy="2151.2" r="30" fill="none" stroke="#000" stroke-opacity="0.5" stroke-width="1.9"/>
<circle cx="1175.1" cy="2458.2" r="30" fill="none" stroke="#000" stroke-opacity="0.5" stroke-width="1.9"/>
<circle cx="1633.3" cy="2373.7" r="30" fill="none" stroke="#000" stroke-opacity="0.5" stroke-width="1.9"/>
<rect x="1277.8" y="1462.0" width="22" height="22" rx="2" fill="#44aa00"/>
<rect x="1277.8" y="1613.0" width="22" height="22" rx="2" fill="#44aa00"/>
<path d="M1272.2,1622.1 L1305.2,1622.1 L1288.7,1653.3 Z" fill="#44aa00" stroke="#44aa00" stroke-width="3" stroke-linejoin="round"/>
<rect x="1026.3" y="1747.5" width="22" height="22" rx="2" fill="#80b1ff"/>
<rect x="1026.3" y="2041.5" width="22" height="22" rx="2" fill="#80b1ff"/>
<rect x="1391.3" y="2147.5" width="22" height="22" rx="2" fill="#80b1ff"/>
<path d="M1385.7,2155.8 L1418.7,2155.8 L1402.2,2187.6 Z" fill="#80b1ff" stroke="#80b1ff" stroke-width="3" stroke-linejoin="round"/>
<rect x="1380.3" y="1720.3" width="22" height="22" rx="2" fill="#ffcc00"/>
<rect x="1380.3" y="2012.7" width="22" height="22" rx="2" fill="#ffcc00"/>
<path d="M1375.0,2021.2 L1408.0,2021.2 L1391.5,2052.4 Z" fill="#ffcc00" stroke="#ffcc00" stroke-width="3" stroke-linejoin="round"/>
<rect x="1639.5" y="1469.2" width="6" height="6" rx="0" fill="#3f9aaa"/>
<rect x="1639.5" y="1604.0" width="6" height="6" rx="0" fill="#3f9aaa"/>
<path d="M1633.8,1611.2 L1651.2,1611.2 L1642.5,1629 Z" fill="#1f8898"/>
<rect x="1690.0" y="1738.7" width="6" height="6" rx="0" fill="#3f9aaa"/>
<rect x="1690.0" y="2086.7" width="6" height="6" rx="0" fill="#3f9aaa"/>
<path d="M1684.3,2091.6 L1701.7,2091.6 L1693,2107.7 Z" fill="#1f8898"/>
<rect x="1172.1" y="2267.8" width="6" height="6" rx="0" fill="#3f9aaa"/>
<rect x="1172.1" y="2402.6" width="6" height="6" rx="0" fill="#3f9aaa"/>
<path d="M1166.4,2409.8 L1183.8,2409.8 L1175.1,2426.7 Z" fill="#1f8898"/>
<rect x="1630.3" y="2267.9" width="6" height="6" rx="0" fill="#3f9aaa"/>
<rect x="1630.3" y="2317.0" width="6" height="6" rx="0" fill="#3f9aaa"/>
<path d="M1624.6,2324.7 L1642.0,2324.7 L1633.3,2341.9 Z" fill="#a6a6a6"/>
<text x="1392.2 1407.1 1425.0 1437.1 1454.9 1466.3 1484.1 1502.5 1510.6" y="1427.0" fill="#000" style="stroke:#000" >serotonin</text>
<text x="1140.7 1155.7 1173.6 1185.7 1203.5 1214.9 1232.7 1251.1 1259.1" y="1495.2" fill="#000" style="stroke:#000" >serotonin</text>
<text x="1166.3 1184.1 1201.3 1209.1 1227.3 1245.0 1259.9" y="1522.9" fill="#000" style="stroke:#000" >oxidase</text>
<text x="1201.7 1214.0 1235.9 1252.0 1266.1" y="1550.6" fill="#000" style="stroke:#000" >(Hs):</text>
<text x="1189.9 1214.7 1234.7 1257.6" y="1578.3" fill="#000" style="stroke:#000" >MAOA</text>
<text x="1171.5 1190.8 1200.7 1219.9 1229.9 1249.1 1259.0" y="1612.4" fill="#000" style="stroke:#000" >1.4.3.4</text>
<text x="1303.6 1318.5 1336.4 1348.6 1366.4 1377.8 1395.5 1414.0 1422.0" y="1495.2" fill="#000" style="stroke:#000" >serotonin</text>
<text x="1303.5 1321.3 1338.5 1346.4 1364.6 1382.3 1397.2" y="1522.9" fill="#000" style="stroke:#000" >oxidase</text>
<text x="1304.5 1316.8 1337.1 1356.5 1370.5 1382.6 1392.0 1416.8 1434.4 1452.0" y="1550.6" fill="#000" style="stroke:#000" >(Rn): Maoa</text>
<text x="1170.2 1190.2 1202.0 1220.5 1237.6 1256.2 1268.3 1286.1 1303.4 1320.6 1328.6 1346.9 1365.2 1382.9 1390.7" y="1671.3" fill="#000" style="stroke:#000" >5-hydroxyindole</text>
<text x="1191.8 1209.1 1224.5 1242.2 1253.4 1271.1 1279.0 1297.0 1314.7 1333.2 1350.3 1368.3" y="1699.0" fill="#000" style="stroke:#000" >acetaldehyde</text>
<text x="1649.3 1664.2 1682.1 1694.3 1712.1 1723.5 1741.2 1759.7 1767.7" y="1476.0" fill="#000" style="stroke:#000" >serotonin</text>
<text x="1649.3 1664.5 1682.9 1691.0 1701.1 1719.0 1730.7 1742.7 1760.4 1778.9 1794.1 1805.0" y="1503.8" fill="#000" style="stroke:#000" >sulfotransf.</text>
<text x="1650.2 1662.5 1684.4 1700.6 1714.6" y="1531.4" fill="#000" style="stroke:#000" >(Hs):</text>
<text x="1650.0 1669.3 1690.6 1706.9 1724.8 1743.4 1763.3" y="1568.3" fill="#000" style="stroke:#000" >SULT1A3</text>
<text x="1649.3 1668.5 1678.5 1697.7 1707.6 1726.9 1736.8" y="1594.6" fill="#000" style="stroke:#000" >2.8.2.1</text>
<text x="1574.3 1589.2 1607.1 1619.2 1637.0 1648.4 1666.2 1684.6 1692.7" y="1654.2" fill="#000" style="stroke:#000" >serotonin</text>
<text x="1575.4 1599.7 1611.6 1626.8 1645.2 1653.3 1663.4 1681.1 1692.3" y="1681.9" fill="#000" style="stroke:#000" >O-sulfate</text>
<text x="1051.6 1071.5 1083.4 1101.9 1119.0 1137.5 1149.7 1167.5 1184.7 1201.9 1210.0 1228.3 1246.6 1264.3 1272.1" y="1845.8" fill="#000" style="stroke:#000" >5-hydroxyindole</text>
<text x="1051.4 1068.7 1084.1 1101.7 1113.0 1130.7 1138.6 1156.6 1174.3 1192.8 1209.8 1227.9" y="1873.6" fill="#000" style="stroke:#000" >acetaldehyde</text>
<text x="1051.8 1063.8 1081.3 1099.6 1117.7 1133.3 1144.6 1162.3 1177.2" y="1901.3" fill="#000" style="stroke:#000" >reductase</text>
<text x="1052.5 1064.8 1086.7 1102.9 1116.9 1128.9 1138.7 1158.7 1181.1 1203.1 1221.6" y="1928.4" fill="#000" style="stroke:#000" >(Hs): ADH1B</text>
<text x="1051.6 1070.8 1080.8 1100.0 1109.9 1129.2 1139.1" y="1967.2" fill="#000" style="stroke:#000" >1.1.1.1</text>
<text x="1405.3 1425.2 1437.1 1455.6 1472.7 1491.2 1503.4 1521.2 1538.4 1555.6 1563.7 1582.0 1600.3 1618.0 1625.8" y="1774.4" fill="#000" style="stroke:#000" >5-hydroxyindole</text>
<text x="1405.1 1422.4 1437.8 1455.4 1466.7 1484.4 1492.3 1510.3 1528.0 1546.5 1563.5 1581.6" y="1802.1" fill="#000" style="stroke:#000" >acetaldehyde</text>
<text x="1405.1 1423.2 1440.8 1459.3 1476.4 1495.0 1507.1 1524.8 1542.8 1560.5 1578.8 1596.5 1611.4" y="1829.8" fill="#000" style="stroke:#000" >dehydrogenase</text>
<text x="1406.2 1418.5 1440.4 1456.6 1470.6 1482.6 1492.4 1512.4 1528.6 1551.1 1573.0 1591.6 1611.5" y="1858.1" fill="#000" style="stroke:#000" >(Hs): ALDH3A2</text>
<text x="1405.3 1425.2 1437.1 1455.6 1472.7 1491.2 1503.4 1521.2 1538.4 1555.6 1563.7 1582.0 1600.3 1618.0 1625.8" y="1900.5" fill="#000" style="stroke:#000" >5-hydroxyindole</text>
<text x="1405.1 1422.4 1437.8 1455.4 1466.7 1484.4 1492.3 1510.3 1528.0 1546.5 1563.5 1581.6" y="1928.2" fill="#000" style="stroke:#000" >acetaldehyde</text>
<text x="1405.1 1423.2 1440.8 1459.3 1476.4 1495.0 1507.1 1524.8 1542.8 1560.5 1578.8 1596.5 1611.4" y="1955.9" fill="#000" style="stroke:#000" >dehydrogenase</text>
<text x="1406.2 1418.5 1440.4 1456.6 1470.6 1482.6 1492.4 1512.4 1528.6 1551.1 1573.0" y="1984.2" fill="#000" style="stroke:#000" >(Hs): ALDH2</text>
<text x="1405.3 1424.5 1434.5 1453.7 1463.6 1482.9 1492.8" y="2021.2" fill="#000" style="stroke:#000" >1.2.1.3</text>
<g transform="translate(1721.3,1915) rotate(-90)">
<text x="-92.9 -77.9 -59.6 -41.8 -23.3 -12.0 5.7 24.1 41.6 59.2 77.7" y="0.8" fill="#000" style="stroke:#000" >spontanoeus</text>
</g>
<text x="1573.9 1593.9 1605.7 1624.2 1641.3 1659.9 1672.0 1689.8 1707.1 1724.3 1732.3 1750.6 1768.9 1786.6 1794.4" y="2129.8" fill="#000" style="stroke:#000" >5-hydroxyindole</text>
<text x="1609.8 1621.2 1639.6 1647.5 1665.2 1680.5 1698.2 1706.2 1714.1 1732.4 1740.4 1758.6" y="2157.5" fill="#000" style="stroke:#000" >thiazolidine</text>
<text x="1607.6 1623.0 1641.0 1653.0 1671.3 1689.1 1706.3 1723.5 1731.4 1749.2 1760.3" y="2185.2" fill="#000" style="stroke:#000" >carboxylate</text>
<text x="1272.4 1292.4 1304.2 1322.7 1339.8 1358.4 1370.5 1388.3 1405.6 1422.8 1430.8 1449.1 1467.4 1485.1 1492.9" y="2070.3" fill="#000" style="stroke:#000" >5-hydroxyindole</text>
<text x="1337.0 1354.3 1369.6 1387.3 1398.6 1416.4 1427.5" y="2098.5" fill="#000" style="stroke:#000" >acetate</text>
<text x="1251.6 1271.5 1283.4 1301.9 1319.0 1337.6 1349.7 1367.5 1384.8 1402.1 1413.8 1426.0 1443.1 1461.5 1472.8 1490.5 1508.8 1527.2 1544.9" y="2225.4" fill="#000" style="stroke:#000" >5-hydroxytryptophol</text>
<text x="1180.0 1199.9 1211.8 1230.3 1247.4 1265.9 1278.1 1295.9 1313.1 1330.4 1342.1 1354.3 1371.4 1389.8 1401.2 1418.8 1437.1 1455.6 1473.3" y="2301.8" fill="#000" style="stroke:#000" >5-hydroxytryptophol</text>
<text x="1201.5 1216.7 1235.1 1243.2 1253.4 1271.2 1282.9 1294.9 1312.6 1331.1 1346.3 1356.3 1374.2 1386.2 1403.9 1418.8" y="2329.6" fill="#000" style="stroke:#000" >sulfotransferase</text>
<text x="1210.3 1222.6 1244.5 1260.6 1274.7 1286.7 1297.2 1316.4 1337.8 1354.1 1372.0 1390.5 1410.5" y="2357.4" fill="#000" style="stroke:#000" >(Hs): SULT1A2</text>
<text x="1182.0 1201.2 1211.2 1230.4 1240.3 1259.6 1269.5" y="2392.5" fill="#000" style="stroke:#000" >2.8.2.1</text>
<text x="1024.4 1044.3 1056.2 1074.7 1091.8 1110.4 1122.5 1140.3 1157.6 1174.9 1186.6 1198.8 1215.9 1234.3 1245.6 1263.3 1281.6 1300.0 1317.7" y="2451.6" fill="#000" style="stroke:#000" >5-hydroxytryptophol</text>
<text x="1125.8 1141.0 1159.4 1167.5 1177.6 1195.3 1206.5" y="2479.3" fill="#000" style="stroke:#000" >sulfate</text>
<text x="1644.4 1663.6 1673.6 1692.8 1702.7 1722.0 1731.9 1750.5" y="2304.3" fill="#000" style="stroke:#000" >2.4.1.17</text>
<text x="1482.6 1502.5 1514.4 1532.9 1550.0 1568.6 1580.7 1598.5 1615.8 1633.1 1644.8 1657.0 1674.1 1692.5 1703.8 1721.5 1739.8 1758.2 1775.9" y="2367.6" fill="#000" style="stroke:#000" >5-hydroxytryptophol</text>
<text x="1547.8 1566.1 1574.1 1592.2 1607.8 1626.5 1638.6 1656.4 1674.8 1682.7 1700.8" y="2394.8" fill="#000" style="stroke:#000" >glucuronide</text>
</g>
<!--PANELB-->
</svg>
</body></html>
